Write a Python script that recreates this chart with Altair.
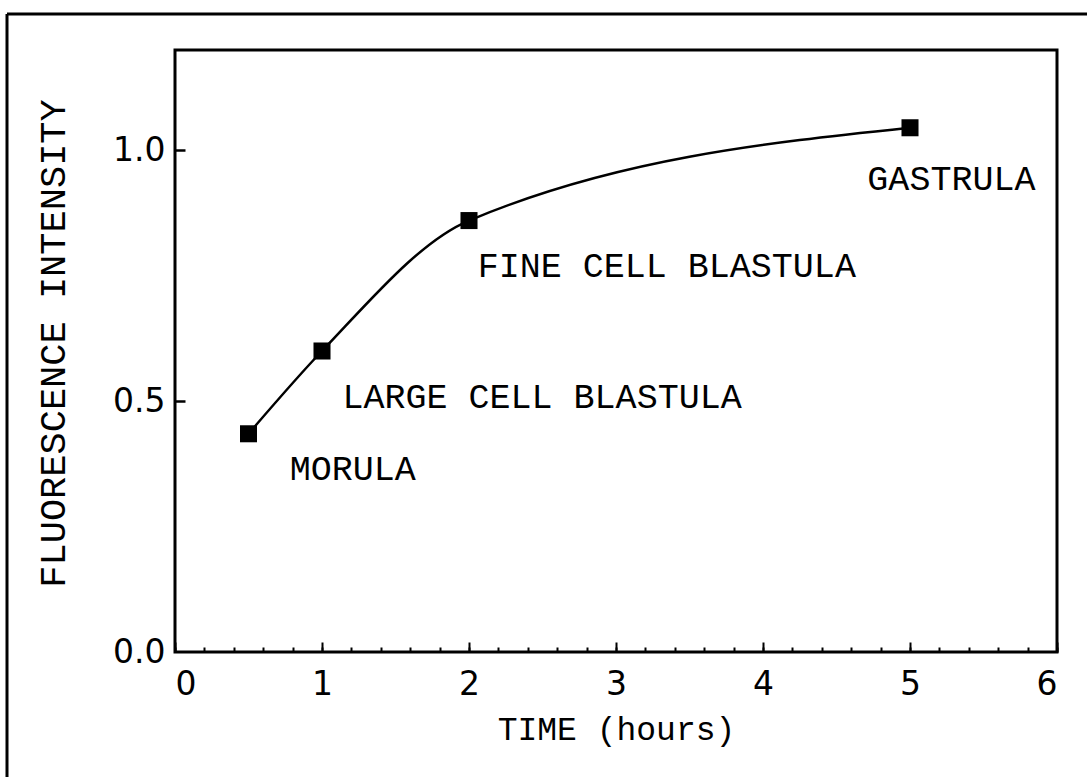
import altair as alt
import pandas as pd

# Measured fluorescence at each developmental stage
hours = [0.5, 1.0, 2.0, 5.0]
intensity = [0.435, 0.60, 0.86, 1.045]

# Stage annotations (left edge / vertical centre in data units)
stage_names = ["MORULA", "LARGE CELL BLASTULA", "FINE CELL BLASTULA", "GASTRULA"]
stage_x = [0.78, 1.14, 2.06, 4.71]
stage_y = [0.365, 0.508, 0.769, 0.942]

# Axis ticks
x_tick_labels = [0, 1, 2, 3, 4, 5, 6]
x_minor_ticks = [round(0.2 * i, 1) for i in range(31)]
y_tick_labels = [0.0, 0.5, 1.0]
y_inner_ticks = [0.5, 1.0]

FONT = "Liberation Mono"
NUM_FONT = "DejaVu Sans"
W, H = 882, 602
PAD_L, PAD_T, PAD_R, PAD_B = 175, 50, 30, 125

points = pd.DataFrame({"hours": hours, "intensity": intensity})
stages = pd.DataFrame({"stage": stage_names, "sx": stage_x, "sy": stage_y})

x_scale = alt.Scale(domain=[0, 6], nice=False, zero=False)
y_scale = alt.Scale(domain=[0, 1.2], nice=False)

# Smooth curve through the measurements, carrying the labelled axes
curve = alt.Chart(points).mark_line(
    interpolate="monotone", color="black", strokeWidth=2.5
).encode(
    x=alt.X(
        "hours:Q", scale=x_scale,
        axis=alt.Axis(
            orient="bottom", values=x_tick_labels, format="d",
            ticks=False, tickSize=0, labelPadding=16,
            labelFont=NUM_FONT, labelFontSize=33, labelColor="black",
            domain=False, grid=False,
            title="TIME (hours)", titleFont=FONT, titleFontSize=33,
            titleFontWeight="normal", titleColor="black",
            titleX=W / 2, titleY=61, titleAlign="center", titleBaseline="top",
        ),
    ),
    y=alt.Y(
        "intensity:Q", scale=y_scale,
        axis=alt.Axis(
            orient="left", values=y_tick_labels, format=".1f",
            ticks=False, tickSize=0, labelPadding=10,
            labelFont=NUM_FONT, labelFontSize=33, labelColor="black",
            domain=False, grid=False,
            title="FLUORESCENCE INTENSITY", titleFont=FONT, titleFontSize=37,
            titleFontWeight="normal", titleColor="black",
            titleAngle=270, titleX=-103, titleY=H / 2 - 8,
            titleAlign="center", titleBaseline="bottom",
        ),
    ),
)

# Square markers; their axes supply the inward minor x ticks and y ticks
markers = alt.Chart(points).mark_point(
    shape="square", filled=True, size=290, color="black", opacity=1
).encode(
    x=alt.X(
        "hours:Q", scale=x_scale,
        axis=alt.Axis(
            orient="top", offset=-H, values=x_minor_ticks,
            tickSize=5, tickWidth=2, tickColor="black",
            labels=False, domain=False, grid=False, title=None,
        ),
    ),
    y=alt.Y(
        "intensity:Q", scale=y_scale,
        axis=alt.Axis(
            orient="right", offset=-W, values=y_inner_ticks,
            tickSize=10, tickWidth=2.5, tickColor="black",
            labels=False, domain=False, grid=False, title=None,
        ),
    ),
)

# Stage names; their x axis supplies the longer inward major ticks
labels = alt.Chart(stages).mark_text(
    align="left", baseline="middle", font=FONT, fontSize=35, color="black"
).encode(
    x=alt.X(
        "sx:Q", scale=x_scale,
        axis=alt.Axis(
            orient="top", offset=-H, values=x_tick_labels,
            tickSize=10, tickWidth=2, tickColor="black",
            labels=False, domain=False, grid=False, title=None,
        ),
    ),
    y=alt.Y("sy:Q", scale=y_scale, axis=None),
    text="stage:N",
)

# Outer page frame (top and left edges)
frame_top = alt.Chart(alt.Data(values=[{}])).mark_rule(
    color="black", strokeWidth=3
).encode(
    x=alt.value(-168), x2=alt.value(W + PAD_R), y=alt.value(-36)
)
frame_left = alt.Chart(alt.Data(values=[{}])).mark_rule(
    color="black", strokeWidth=3
).encode(
    x=alt.value(-168), y=alt.value(-36), y2=alt.value(H + PAD_B)
)

chart = alt.layer(
    curve, markers, labels, frame_top, frame_left
).resolve_axis(
    x="independent", y="independent"
).properties(
    width=W, height=H,
    padding={"left": PAD_L, "top": PAD_T, "right": PAD_R, "bottom": PAD_B},
    autosize=alt.AutoSizeParams(type="none"),
    background="white",
).configure_view(
    stroke="black", strokeWidth=3
)

chart.save("out.html", embed_options={"renderer": "svg", "actions": False})
